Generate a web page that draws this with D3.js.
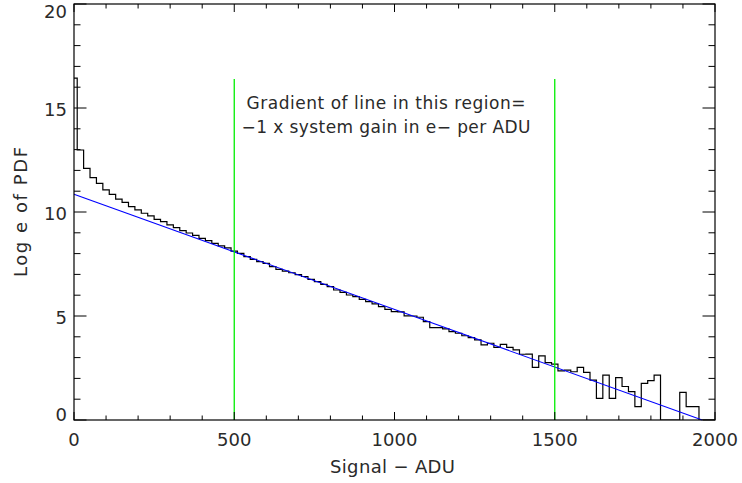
<!DOCTYPE html>
<html>
<head>
<meta charset="utf-8">
<script src="https://cdn.jsdelivr.net/npm/d3@7"></script>
<style>
  html, body { margin: 0; padding: 0; background: #fff; }
  svg text { font-family: "DejaVu Sans", "Liberation Sans", sans-serif; fill: #2a2a2a; }
</style>
</head>
<body>
<svg id="chart" width="742" height="483"></svg>
<script>
// Bin centres (ADU) of the histogram, 20 ADU apart
const binCentres = d3.range(0, 2001, 20);

// Natural log of the probability density in each bin
const logPdf = [
  16.44, 12.98, 12.10, 11.65, 11.38, 11.06, 10.85, 10.62, 10.46, 10.26,
  10.10, 9.94, 9.81, 9.65, 9.54, 9.38, 9.25, 9.10, 8.99, 8.88,
  8.73, 8.62, 8.49, 8.37, 8.28, 8.12, 8.01, 7.85, 7.72, 7.61,
  7.53, 7.37, 7.24, 7.16, 7.08, 6.99, 6.90, 6.76, 6.65, 6.52,
  6.41, 6.25, 6.14, 6.01, 5.93, 5.80, 5.69, 5.58, 5.45, 5.32,
  5.21, 5.20, 5.01, 5.00, 4.94, 4.73, 4.44, 4.44, 4.38, 4.25,
  4.17, 4.05, 3.96, 3.85, 3.61, 3.69, 3.49, 3.64, 3.49, 3.37,
  3.16, 3.17, 2.53, 3.08, 2.76, 2.69, 2.36, 2.40, 2.32, 2.53,
  2.29, 1.92, 1.04, 2.16, 1.04, 2.04, 1.61, 1.36, 0.64, 1.76,
  1.89, 2.16, 0, 0, 0, 1.33, 0.64, 0.64, 0, 0,
  0
];

// Straight-line fit through the linear part of the curve
const fitX = [0, 1960];
const fitY = [10.85, 0];

// Limits of the fitted region
const regionX = [500, 1500];
const regionTop = 16.4;

const xTicks = [0, 500, 1000, 1500, 2000];
const yTicks = [0, 5, 10, 15, 20];
const xMinor = d3.range(0, 2001, 100);
const yMinor = d3.range(0, 21, 1);

const noteLines = ["Gradient of line in this region=", "\u22121 x system gain in e\u2212 per ADU"];
const noteWidths = [279, 289];

(function draw() {
  const svg = d3.select("#chart");
  const mLeft = 74, mRight = 715, mTop = 4, mBottom = 420;
  const x = d3.scaleLinear().domain([0, 2000]).range([mLeft, mRight]);
  const y = d3.scaleLinear().domain([0, 20]).range([mBottom, mTop]);

  const plot = svg.append("g");
  svg.append("clipPath").attr("id", "plotclip")
    .append("rect").attr("x", mLeft).attr("y", mTop)
    .attr("width", mRight - mLeft).attr("height", mBottom - mTop);

  // Histogram drawn as steps centred on each bin
  const hist = binCentres.map((c, i) => [c, logPdf[i]]);
  const stepPts = [];
  hist.forEach((d, i) => {
    const x0 = i === 0 ? d[0] : (hist[i - 1][0] + d[0]) / 2;
    const x1 = i === hist.length - 1 ? d[0] : (d[0] + hist[i + 1][0]) / 2;
    stepPts.push([x0, d[1]], [x1, d[1]]);
  });
  const line = d3.line().x(d => x(d[0])).y(d => y(d[1]));

  plot.append("path")
    .attr("clip-path", "url(#plotclip)")
    .attr("d", line(stepPts))
    .attr("fill", "none").attr("stroke", "#000").attr("stroke-width", 1.2);

  // Fitted line
  plot.append("path")
    .attr("d", line(fitX.map((v, i) => [v, fitY[i]])))
    .attr("fill", "none").attr("stroke", "#0000ff").attr("stroke-width", 1.1);

  // Region markers
  regionX.forEach(v => {
    plot.append("line")
      .attr("x1", x(v)).attr("x2", x(v))
      .attr("y1", y(0)).attr("y2", y(regionTop))
      .attr("stroke", "#00ee00").attr("stroke-width", 1.3);
  });

  // Frame
  svg.append("rect")
    .attr("x", mLeft).attr("y", mTop).attr("width", mRight - mLeft).attr("height", mBottom - mTop)
    .attr("fill", "none").attr("stroke", "#000").attr("stroke-width", 1.2);

  // Ticks on all four sides, pointing inwards
  const xMajLen = 8, xMinLen = 4.5, yMajLen = 12.5, yMinLen = 6.5;
  const tickG = svg.append("g").attr("stroke", "#000").attr("stroke-width", 1);
  xMinor.forEach(v => {
    const len = xTicks.includes(v) ? xMajLen : xMinLen;
    tickG.append("line").attr("x1", x(v)).attr("x2", x(v)).attr("y1", mBottom).attr("y2", mBottom - len);
    tickG.append("line").attr("x1", x(v)).attr("x2", x(v)).attr("y1", mTop).attr("y2", mTop + len);
  });
  yMinor.forEach(v => {
    const len = yTicks.includes(v) ? yMajLen : yMinLen;
    tickG.append("line").attr("y1", y(v)).attr("y2", y(v)).attr("x1", mLeft).attr("x2", mLeft + len);
    tickG.append("line").attr("y1", y(v)).attr("y2", y(v)).attr("x1", mRight).attr("x2", mRight - len);
  });

  // Tick labels
  const fs = 18;
  svg.append("g").selectAll("text").data(xTicks).join("text")
    .attr("x", d => x(d)).attr("y", 446)
    .attr("text-anchor", "middle").attr("font-size", fs)
    .text(d => d);
  svg.append("g").selectAll("text").data(yTicks).join("text")
    .attr("x", mLeft - 7)
    .attr("y", d => Math.min(Math.max(y(d) + 7.5, 18), 421))
    .attr("text-anchor", "end").attr("font-size", fs)
    .text(d => d);

  // Axis titles
  svg.append("text")
    .attr("x", (mLeft + mRight) / 2 - 2).attr("y", 473)
    .attr("text-anchor", "middle").attr("font-size", fs)
    .attr("textLength", 125).attr("lengthAdjust", "spacing")
    .text("Signal \u2212 ADU");
  svg.append("text")
    .attr("transform", `translate(27,${(mTop + mBottom) / 2}) rotate(-90)`)
    .attr("text-anchor", "middle").attr("font-size", fs)
    .attr("textLength", 130).attr("lengthAdjust", "spacing")
    .text("Log e of PDF");

  // Annotation
  svg.append("g").selectAll("text").data(noteLines).join("text")
    .attr("x", 386).attr("y", (d, i) => y(14.95) + i * 24)
    .attr("text-anchor", "middle").attr("font-size", 17)
    .attr("textLength", (d, i) => noteWidths[i]).attr("lengthAdjust", "spacing")
    .text(d => d);
})();
</script>
</body>
</html>
